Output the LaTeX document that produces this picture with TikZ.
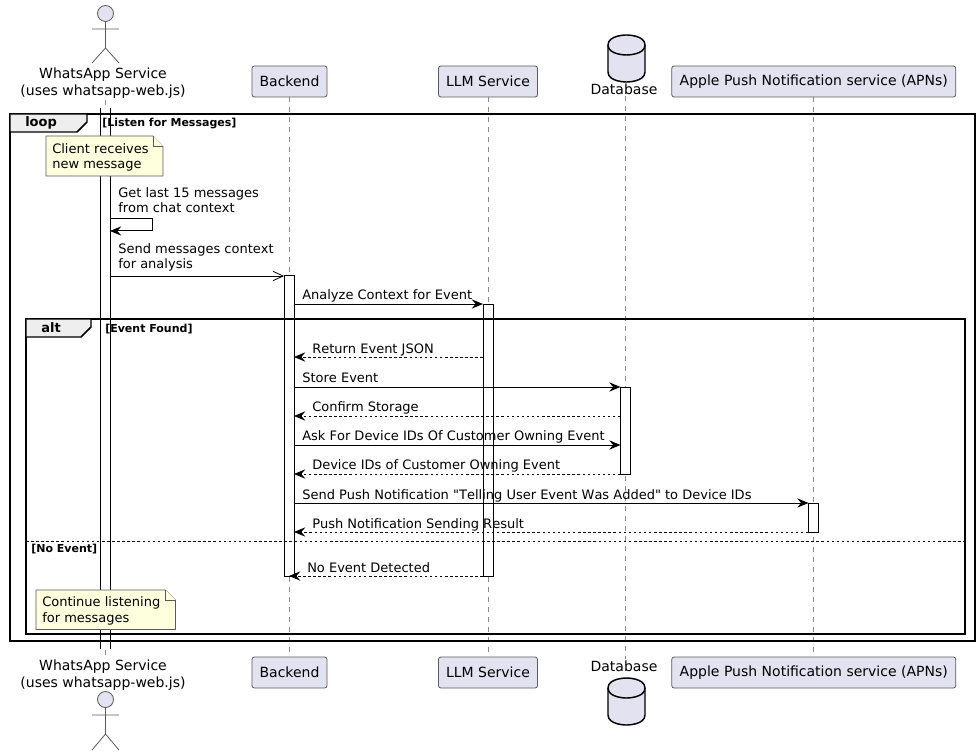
\documentclass[tikz,border=0pt]{standalone}
\usepackage{fontspec}
\setmainfont{DejaVu Sans}
\newfontfamily\msgfont{DejaVu Sans}[Kerning=Off]
\usepackage{tikz}
\usetikzlibrary{arrows.meta}

\newcommand{\px}{0.75pt}
\definecolor{partfill}{HTML}{E2E2F0}
\definecolor{partline}{HTML}{5A5A5A}
\definecolor{lifegray}{HTML}{8A8A8A}
\definecolor{notefill}{HTML}{FEFFDD}
\definecolor{tabfill}{HTML}{EEEEEE}

\begin{document}
\begin{tikzpicture}[
    x=0.75pt, y=-0.75pt,
    partbox/.style={draw=partline, fill=partfill, rounded corners=1.8pt, line width=0.6pt, minimum height=31*\px, inner sep=0pt, outer sep=0pt, font=\fontsize{10.5}{13}\selectfont},
    parttext/.style={align=center, inner sep=1pt, font=\fontsize{10.5}{12.3}\selectfont},
    lifeline/.style={draw=lifegray, line width=0.5pt, dash pattern=on 3.75pt off 3.75pt},
    figure/.style={draw=partline, line width=0.6pt},
    dbase/.style={draw=black, fill=partfill, line width=1.1pt},
    activebar/.style={draw=black, fill=white, line width=0.75pt, minimum width=10*\px, inner sep=0pt, outer sep=0pt, anchor=north},
    framebox/.style={draw=black, line width=1.3pt, inner sep=0pt, outer sep=0pt, anchor=north west},
    tabshape/.style={draw=black, fill=tabfill, line width=1.1pt},
    notepath/.style={draw=partline, fill=notefill, line width=0.5pt},
    msgtext/.style={anchor=base west, align=left, inner sep=0pt, font=\msgfont\fontsize{9.75}{11.4}\selectfont},
    tabtext/.style={anchor=base west, inner sep=0pt, font=\fontsize{9.75}{12}\selectfont\bfseries},
    guardtext/.style={anchor=base west, inner sep=0pt, font=\fontsize{8.25}{10}\selectfont\bfseries},
    call/.style={-{Stealth[length=8.5pt,width=7pt,inset=3pt]}, line width=0.75pt},
    reply/.style={-{Stealth[length=8.5pt,width=7pt,inset=3pt]}, line width=0.75pt, dash pattern=on 1.9pt off 1.9pt},
    async/.style={-{Straight Barb[length=7.5pt,width=7pt]}, line width=0.6pt}
  ]
    \useasboundingbox (0,0) rectangle (980,755);

    % participants, top and bottom
    \coordinate (whatsLine) at (105.5,0);
    \coordinate (dbLine) at (625.5,0);
    \node[parttext] (whatsTop) at (103,83) {WhatsApp Service\\(uses whatsapp-web.js)};
    \node[parttext] (whatsBot) at (103,675) {WhatsApp Service\\(uses whatsapp-web.js)};
    \node[partbox, minimum width=75*\px]  (backendTop) at (289.5,81.5)  {Backend};
    \node[partbox, minimum width=75*\px]  (backendBot) at (289.5,672.5) {Backend};
    \node[partbox, minimum width=99*\px]  (llmTop) at (488,81.5)  {LLM Service};
    \node[partbox, minimum width=99*\px]  (llmBot) at (488,672.5) {LLM Service};
    \node[parttext] (dbTop) at (624,89) {Database};
    \node[parttext] (dbBot) at (624,666) {Database};
    \node[partbox, minimum width=284*\px] (apnsTop) at (813.75,81.5)  {Apple Push Notification service (APNs)};
    \node[partbox, minimum width=284*\px] (apnsBot) at (813.75,672.5) {Apple Push Notification service (APNs)};

    \draw[lifeline] (whatsTop.south -| whatsLine) -- (whatsBot.north -| whatsLine);
    \draw[lifeline] (backendTop.south) -- (backendBot.north);
    \draw[lifeline] (llmTop.south) -- (llmBot.north);
    \draw[lifeline] (dbTop.south -| dbLine) -- (dbBot.north -| dbLine);
    \draw[lifeline] (apnsTop.south) -- (apnsBot.north);

    % database drums
    \foreach \drum in {35,678} {
      \draw[dbase] (608,\drum+10) .. controls (608,\drum) and (626.5,\drum) .. (626.5,\drum)
        .. controls (626.5,\drum) and (645,\drum) .. (645,\drum+10) -- (645,\drum+37)
        .. controls (645,\drum+47) and (626.5,\drum+47) .. (626.5,\drum+47)
        .. controls (626.5,\drum+47) and (608,\drum+47) .. (608,\drum+37) -- cycle;
      \draw[dbase, fill=none] (608,\drum+10) .. controls (608,\drum+20) and (626.5,\drum+20) .. (626.5,\drum+20)
        .. controls (626.5,\drum+20) and (645,\drum+20) .. (645,\drum+10);
    }

    % actor figures
    \node[figure, fill=partfill, circle, minimum size=16*\px, inner sep=0pt] (headTop) at (105.5,13.5) {};
    \draw[figure] (headTop) -- (105.5,48) (92,29) -- (119,29) (92,63) -- (105.5,48) -- (119,63);
    \node[figure, fill=partfill, circle, minimum size=16*\px, inner sep=0pt] (headBot) at (105.5,699.5) {};
    \draw[figure] (headBot) -- (105.5,734) (92,715) -- (119,715) (92,750) -- (105.5,734) -- (119,750);

    % activation bars
    \node[activebar, draw=none, minimum height=541*\px] (barWhats) at (105,108) {};
    \draw[line width=0.75pt] (barWhats.north west) -- (barWhats.south west) (barWhats.north east) -- (barWhats.south east);
    \node[activebar, minimum height=300*\px] (barBackend) at (289,276) {};
    \node[activebar, minimum height=272*\px] (barLlm)     at (488,304) {};
    \node[activebar, minimum height=87*\px]  (barDb)      at (625.5,387) {};
    \node[activebar, minimum height=29*\px]  (barApns)    at (813.5,503) {};

    % frames
    \node[framebox, minimum width=965*\px, minimum height=527*\px] (loopFrame) at (10,114) {};
    \draw[tabshape] (10,114) -- (87,114) -- (87,122) -- (77,132) -- (10,132) -- cycle;
    \node[tabtext] (loopTab) at (25,127) {loop};
    \node[guardtext] (loopGuard) at (102,127) {[Listen for Messages]};
    \node[framebox, minimum width=939*\px, minimum height=315*\px] (altFrame) at (26,319) {};
    \draw[tabshape] (26,319) -- (91,319) -- (91,327) -- (81,337) -- (26,337) -- cycle;
    \node[tabtext] (altTab) at (41,332) {alt};
    \node[guardtext] (altGuard) at (105,332) {[Event Found]};
    \coordinate (elseRow) at (0,541);
    \draw[line width=0.75pt, dash pattern=on 1.9pt off 1.9pt] (altFrame.west |- elseRow) -- (altFrame.east |- elseRow);
    \node[guardtext] (elseGuard) at (31,552) {[No Event]};

    % notes
    \draw[notepath] (46,136) -- (153,136) -- (163,146) -- (163,176) -- (46,176) -- cycle;
    \draw[notepath] (153,136) -- (153,146) -- (163,146);
    \node[msgtext] (noteClient) at (52,169) {Client receives\\new message};
    \draw[notepath] (36,590) -- (165.5,590) -- (175.5,600) -- (175.5,629.5) -- (36,629.5) -- cycle;
    \draw[notepath] (165.5,590) -- (165.5,600) -- (175.5,600);
    \node[msgtext] (noteListen) at (42,622) {Continue listening\\for messages};

    % message rows
    \foreach \rowname/\rowy in {rowSelf/219, rowSelfEnd/231, rowSend/276, rowAnalyze/304, rowReturn/357, rowStore/387,
        rowConfirm/416, rowAsk/445, rowDevice/474, rowPush/503, rowResult/532, rowNone/576}
      \coordinate (\rowname) at (0,\rowy);

    \draw[call] (barWhats.east |- rowSelf) -- (152,219) -- (152,231) -- (barWhats.east |- rowSelfEnd);
    \draw[async] (barWhats.east |- rowSend) -- (barBackend.west |- rowSend);
    \draw[call] (barBackend.east |- rowAnalyze) -- (barLlm.west |- rowAnalyze);
    \draw[reply] (barLlm.west |- rowReturn) -- (barBackend.east |- rowReturn);
    \draw[call] (barBackend.east |- rowStore) -- (barDb.west |- rowStore);
    \draw[reply] (barDb.west |- rowConfirm) -- (barBackend.east |- rowConfirm);
    \draw[call] (barBackend.east |- rowAsk) -- (barDb.west |- rowAsk);
    \draw[reply] (barDb.west |- rowDevice) -- (barBackend.east |- rowDevice);
    \draw[call] (barBackend.east |- rowPush) -- (barApns.west |- rowPush);
    \draw[reply] (barApns.west |- rowResult) -- (barBackend.east |- rowResult);
    \draw[reply] (barLlm.west |- rowNone) -- (barBackend.south |- rowNone);

    \node[msgtext] (lblSelf)    at (118,213) {Get last 15 messages\\from chat context};
    \node[msgtext] (lblSend)    at (118,269) {Send messages context\\for analysis};
    \node[msgtext] (lblAnalyze) at (302,300) {Analyze Context for Event};
    \node[msgtext] (lblReturn)  at (312,353) {Return Event JSON};
    \node[msgtext] (lblStore)   at (302,382) {Store Event};
    \node[msgtext] (lblConfirm) at (312,411) {Confirm Storage};
    \node[msgtext] (lblAsk)     at (302,440) {Ask For Device IDs Of Customer Owning Event};
    \node[msgtext] (lblDevice)  at (312,469) {Device IDs of Customer Owning Event};
    \node[msgtext] (lblPush)    at (302,499) {Send Push Notification "Telling User Event Was Added" to Device IDs};
    \node[msgtext] (lblResult)  at (312,528) {Push Notification Sending Result};
    \node[msgtext] (lblNone)    at (307,572) {No Event Detected};
  \end{tikzpicture}
\end{document}
